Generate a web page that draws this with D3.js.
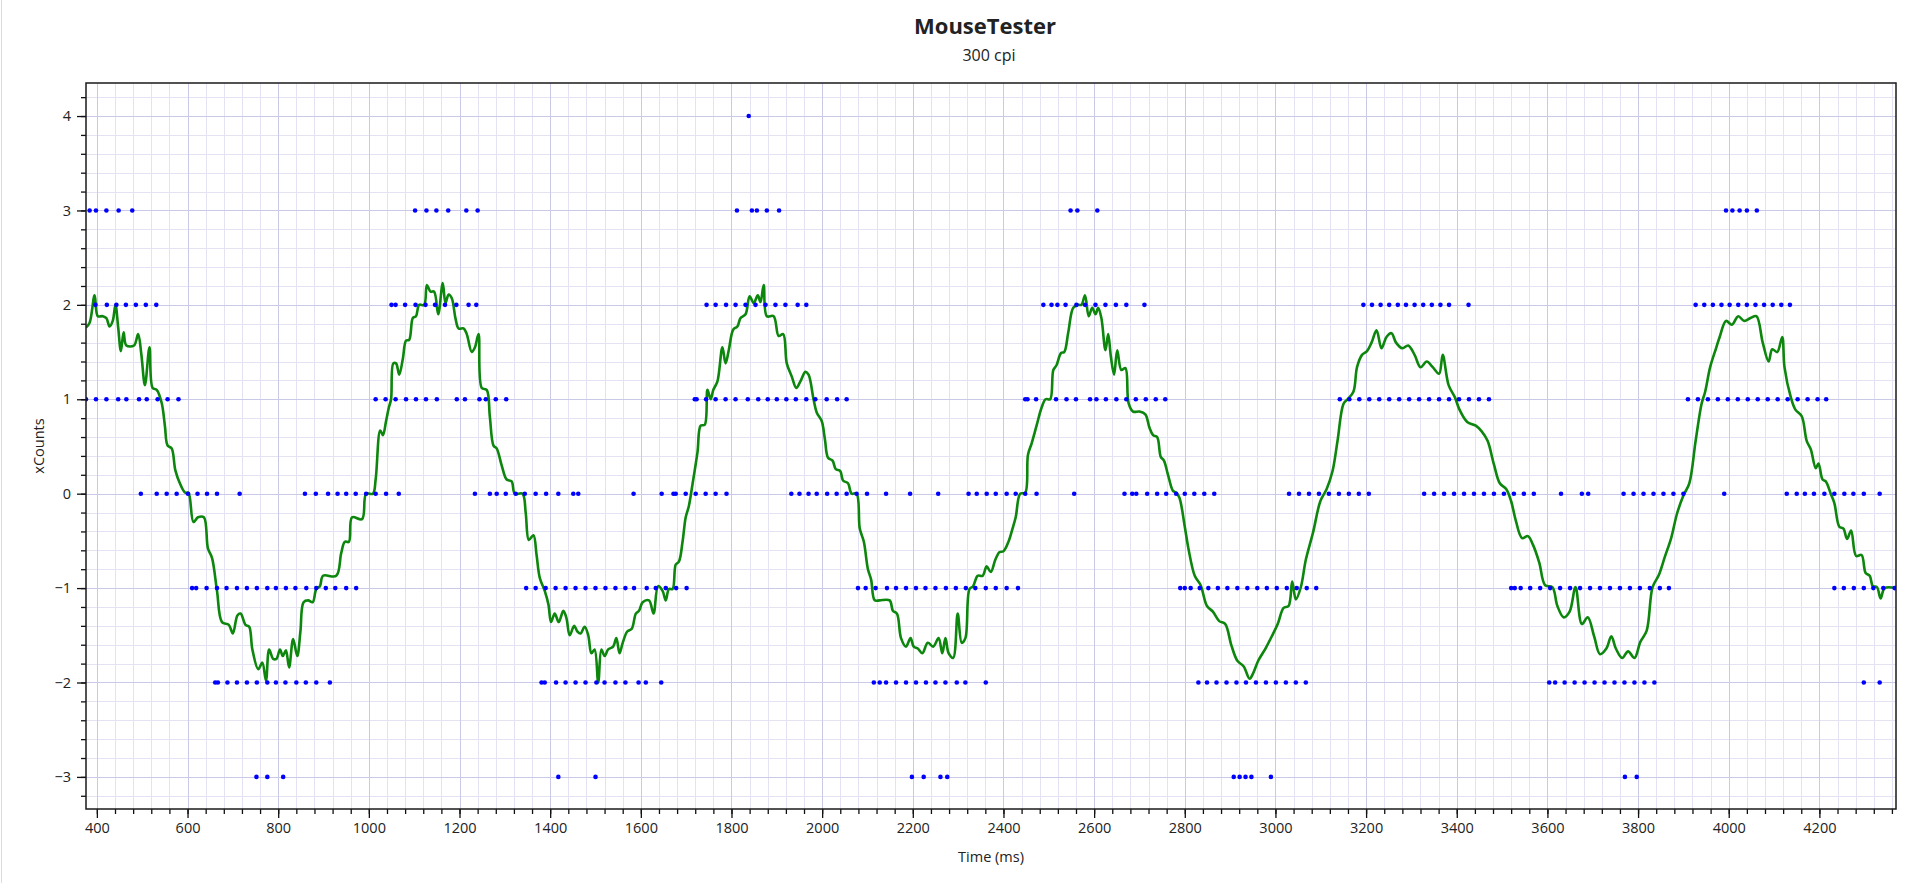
<!DOCTYPE html>
<html>
<head>
<meta charset="utf-8">
<title>MouseTester</title>
<script src="https://cdn.jsdelivr.net/npm/d3@7/dist/d3.min.js"></script>
<style>
  html, body { margin: 0; padding: 0; background: #fff; }
  body { width: 1919px; height: 883px; overflow: hidden; }
  svg text { font-family: "Segoe UI", "Open Sans", "Noto Sans", sans-serif; fill: #222; }
</style>
</head>
<body>
<div id="chart"></div>
<script>
/* MouseTester xCounts vs time — blue dots are raw counts, green line the smoothed trace */

// — Raw counts: sample times (ms) for each count value ——————————————
const ROW_P4 = [1838];
const ROW_P3 = [384, 398, 421, 448, 478, 1102, 1127, 1149, 1175, 1215, 1240,
  1812, 1845, 1856, 1878, 1905, 2548, 2563, 2607, 3994, 4008, 4024, 4040, 4062];
const ROW_P2 = [397, 422, 443, 464, 486, 508, 531, 1050, 1059, 1080, 1103, 1125, 1146, 1168,
  1193, 1220, 1237, 1745, 1765, 1788, 1809, 1831, 1853, 1875, 1897, 1919, 1946, 1965,
  2488, 2506, 2519, 2537, 2561, 2580, 2603, 2625, 2648, 2671, 2711,
  3194, 3213, 3232, 3251, 3270, 3288, 3307, 3326, 3345, 3364, 3383, 3426,
  3927, 3946, 3965, 3984, 4002, 4021, 4040, 4059, 4078, 4097, 4116, 4135];
const ROW_P1 = [376, 398, 421, 447, 465, 493, 510, 534, 556, 580,
  1015, 1037, 1059, 1082, 1104, 1126, 1150, 1194, 1212, 1244, 1258, 1280, 1303,
  1719, 1723, 1744, 1765, 1787, 1809, 1836, 1859, 1880, 1900, 1921, 1942, 1965, 1985,
  2010, 2033, 2054, 2448, 2453, 2472, 2516, 2539, 2560, 2591, 2605, 2626, 2649, 2671,
  2692, 2714, 2736, 2757, 3142, 3163, 3185, 3207, 3229, 3251, 3273, 3295, 3317, 3339,
  3361, 3383, 3405, 3427, 3449, 3471, 3910, 3932, 3954, 3976, 3998, 4020, 4042, 4064,
  4086, 4108, 4130, 4152, 4174, 4196, 4215];
const ROW_0 = [497, 532, 554, 576, 601, 622, 643, 665, 715, 859, 883, 910, 931, 950, 971,
  994, 1015, 1038, 1066, 1234, 1267, 1282, 1302, 1324, 1344, 1368, 1391, 1418, 1451, 1462,
  1584, 1646, 1672, 1677, 1699, 1721, 1743, 1765, 1789, 1932, 1950, 1970, 1988,
  2011, 2032, 2054, 2076, 2099, 2141, 2194, 2256, 2323, 2341, 2363, 2383, 2407, 2427,
  2448, 2473, 2556, 2667, 2684, 2693, 2717, 2739, 2759, 2781, 2800, 2821, 2843, 2865,
  3030, 3052, 3074, 3096, 3118, 3140, 3162, 3184, 3206, 3328, 3350, 3372, 3394, 3416,
  3438, 3460, 3482, 3504, 3526, 3548, 3570, 3630, 3676, 3690, 3768, 3790, 3812, 3834,
  3856, 3878, 3900, 3990, 4128, 4150, 4168, 4188, 4211, 4233, 4255, 4275, 4298, 4333];
const ROW_N1 = [610, 619, 642, 665, 686, 709, 731, 753, 776, 795, 817, 838, 862, 884, 905,
  926, 950, 972, 1347, 1368, 1390, 1412, 1434, 1456, 1478, 1500, 1522, 1544, 1566, 1585,
  1613, 1633, 1655, 1678, 1701, 2079, 2096, 2118, 2143, 2163, 2185, 2207, 2228, 2250,
  2273, 2295, 2317, 2338, 2361, 2383, 2407, 2432, 2790, 2800, 2813, 2833, 2852, 2873,
  2894, 2916, 2938, 2960, 2981, 3003, 3025, 3047, 3069, 3090, 3520, 3528, 3541, 3562,
  3584, 3606, 3628, 3650, 3672, 3694, 3716, 3738, 3760, 3782, 3804, 3826, 3848, 3868,
  4233, 4254, 4276, 4298, 4319, 4341, 4366];
const ROW_N2 = [661, 667, 688, 709, 731, 753, 776, 795, 816, 840, 861, 884, 914,
  1381, 1388, 1413, 1434, 1456, 1478, 1502, 1520, 1544, 1566, 1595, 1611, 1645,
  2114, 2127, 2141, 2163, 2185, 2207, 2229, 2250, 2272, 2297, 2316, 2361,
  2830, 2849, 2870, 2892, 2914, 2935, 2957, 2979, 3001, 3023, 3045, 3067,
  3604, 3617, 3638, 3660, 3682, 3704, 3726, 3748, 3770, 3792, 3814, 3836, 4298, 4333];
const ROW_N3 = [752, 776, 811, 1418, 1500, 2198, 2224, 2261, 2276,
  2908, 2921, 2934, 2947, 2990, 3771, 3797];

const ROWS = [[4, ROW_P4], [3, ROW_P3], [2, ROW_P2], [1, ROW_P1], [0, ROW_0],
  [-1, ROW_N1], [-2, ROW_N2], [-3, ROW_N3]];

// — Smoothed trace ——————————————————————————————————————————————
const LINE_T = [376, 384, 395, 402, 413, 421, 428, 435, 441, 447, 453, 459, 465, 482, 491,
  498, 506, 516, 523, 532, 543, 550, 556, 565, 573, 584, 595, 602, 613, 623, 636, 645,
  654, 665, 676, 691, 700, 710, 717, 728, 736, 743, 756, 765, 773, 780, 789, 796, 804,
  810, 817, 824, 833, 842, 849, 856, 866, 876, 884, 892, 899, 928, 939, 947, 956, 963,
  985, 994, 1009, 1015, 1025, 1031, 1038, 1044, 1049, 1054, 1060, 1067, 1075, 1082,
  1089, 1097, 1104, 1111, 1122, 1128, 1136, 1144, 1153, 1163, 1169, 1176, 1183, 1191,
  1198, 1209, 1216, 1227, 1234, 1242, 1249, 1260, 1267, 1275, 1282, 1293, 1304, 1315,
  1322, 1339, 1346, 1353, 1363, 1370, 1377, 1388, 1396, 1402, 1410, 1419, 1429, 1436,
  1443, 1453, 1460, 1467, 1476, 1484, 1491, 1498, 1506, 1513, 1520, 1528, 1539, 1546,
  1553, 1560, 1570, 1580, 1589, 1596, 1604, 1618, 1628, 1638, 1648, 1655, 1662, 1670,
  1677, 1684, 1692, 1699, 1706, 1714, 1725, 1732, 1741, 1747, 1754, 1760, 1769, 1780,
  1787, 1794, 1804, 1813, 1820, 1831, 1840, 1849, 1858, 1864, 1871, 1878, 1893, 1904,
  1914, 1922, 1933, 1943, 1952, 1963, 1970, 1981, 1988, 1999, 2006, 2013, 2023, 2030,
  2040, 2046, 2057, 2065, 2076, 2083, 2092, 2101, 2108, 2116, 2127, 2149, 2156, 2165,
  2174, 2185, 2195, 2202, 2211, 2221, 2233, 2245, 2257, 2265, 2272, 2279, 2289, 2299,
  2308, 2316, 2325, 2333, 2343, 2354, 2363, 2372, 2382, 2391, 2400, 2411, 2420, 2427,
  2437, 2448, 2454, 2462, 2473, 2484, 2493, 2503, 2510, 2517, 2527, 2534, 2543, 2554,
  2565, 2572, 2580, 2588, 2596, 2603, 2609, 2616, 2625, 2631, 2637, 2644, 2651, 2660,
  2669, 2676, 2686, 2700, 2713, 2722, 2730, 2739, 2747, 2754, 2763, 2774, 2781, 2788,
  2800, 2808, 2822, 2835, 2849, 2862, 2876, 2889, 2903, 2916, 2930, 2943, 2951, 2962,
  2978, 2992, 3005, 3018, 3029, 3037, 3045, 3056, 3067, 3083, 3099, 3113, 3126, 3137,
  3150, 3159, 3172, 3180, 3191, 3202, 3212, 3223, 3234, 3245, 3256, 3266, 3280, 3293,
  3307, 3320, 3334, 3347, 3361, 3369, 3382, 3396, 3406, 3423, 3442, 3455, 3468, 3482,
  3495, 3509, 3520, 3530, 3544, 3557, 3568, 3582, 3595, 3611, 3622, 3636, 3649, 3662,
  3676, 3689, 3703, 3716, 3730, 3741, 3751, 3765, 3778, 3792, 3805, 3819, 3832, 3846,
  3859, 3873, 3886, 3900, 3913, 3927, 3940, 3948, 3959, 3972, 3980, 3994, 4007, 4021,
  4034, 4048, 4061, 4075, 4088, 4096, 4107, 4118, 4123, 4137, 4147, 4161, 4172, 4181,
  4192, 4198, 4207, 4214, 4225, 4233, 4244, 4253, 4261, 4270, 4281, 4293, 4302, 4311,
  4318, 4327, 4335, 4344, 4369];
const LINE_V = [1.76, 1.81, 2.10, 1.88, 1.88, 1.86, 1.77, 1.83, 2.00, 1.76, 1.51, 1.71, 1.57,
  1.57, 1.69, 1.48, 1.15, 1.55, 1.12, 1.10, 0.96, 0.72, 0.51, 0.48, 0.25, 0.10, 0.01, 0.01,
  -0.30, -0.25, -0.25, -0.58, -0.68, -1.03, -1.36, -1.39, -1.48, -1.29, -1.27, -1.39, -1.41,
  -1.65, -1.86, -1.79, -1.98, -1.65, -1.75, -1.75, -1.65, -1.72, -1.66, -1.84, -1.54, -1.72,
  -1.46, -1.15, -1.13, -1.15, -1.01, -0.98, -0.87, -0.87, -0.63, -0.51, -0.51, -0.25, -0.27,
  0.00, 0.00, 0.15, 0.67, 0.62, 0.77, 0.91, 1.00, 1.38, 1.38, 1.26, 1.43, 1.62, 1.63, 1.86,
  1.88, 2.00, 2.00, 2.21, 2.14, 2.14, 1.90, 2.23, 2.02, 2.11, 2.07, 1.86, 1.75, 1.75, 1.69,
  1.50, 1.55, 1.69, 1.12, 1.10, 0.81, 0.51, 0.48, 0.30, 0.15, 0.13, 0.00, 0.00, -0.20, -0.49,
  -0.44, -0.65, -0.89, -1.03, -1.17, -1.36, -1.27, -1.36, -1.24, -1.32, -1.50, -1.40, -1.46,
  -1.48, -1.41, -1.50, -1.69, -1.65, -2.00, -1.65, -1.72, -1.65, -1.62, -1.53, -1.69, -1.58,
  -1.46, -1.43, -1.27, -1.24, -1.15, -1.13, -1.27, -0.98, -1.03, -1.13, -1.01, -1.01, -0.75,
  -0.72, -0.51, -0.25, -0.13, 0.10, 0.44, 0.72, 0.73, 1.10, 1.00, 1.10, 1.19, 1.55, 1.38,
  1.52, 1.74, 1.77, 1.86, 1.90, 2.09, 2.02, 2.10, 2.03, 2.21, 1.88, 1.88, 1.67, 1.69, 1.38,
  1.24, 1.12, 1.19, 1.29, 1.26, 1.00, 0.86, 0.77, 0.58, 0.38, 0.35, 0.26, 0.24, 0.14, 0.11,
  0.00, 0.00, -0.37, -0.51, -0.80, -0.91, -1.13, -1.13, -1.13, -1.24, -1.27, -1.53, -1.62,
  -1.53, -1.62, -1.64, -1.69, -1.58, -1.62, -1.53, -1.69, -1.53, -1.69, -1.74, -1.27, -1.58,
  -1.53, -1.01, -0.98, -0.87, -0.87, -0.77, -0.83, -0.70, -0.62, -0.61, -0.51, -0.37, -0.25,
  0.00, 0.01, 0.41, 0.53, 0.72, 0.91, 1.00, 1.00, 1.31, 1.36, 1.49, 1.50, 1.71, 1.97, 2.00,
  2.00, 2.10, 1.88, 1.97, 1.90, 1.97, 1.86, 1.52, 1.69, 1.45, 1.26, 1.52, 1.31, 1.33, 0.96,
  0.87, 0.87, 0.84, 0.70, 0.62, 0.60, 0.39, 0.35, 0.20, 0.03, 0.01, -0.04, -0.35, -0.58,
  -0.87, -0.97, -1.19, -1.25, -1.35, -1.38, -1.61, -1.77, -1.83, -1.96, -1.90, -1.77, -1.64,
  -1.51, -1.38, -1.21, -1.19, -0.93, -1.12, -0.99, -0.70, -0.41, -0.08, 0.05, 0.24, 0.56,
  0.95, 1.00, 1.08, 1.34, 1.47, 1.51, 1.60, 1.73, 1.54, 1.66, 1.70, 1.60, 1.54, 1.57, 1.47,
  1.34, 1.40, 1.34, 1.27, 1.47, 1.15, 1.02, 0.89, 0.76, 0.72, 0.66, 0.56, 0.31, 0.11, 0.05,
  -0.08, -0.28, -0.47, -0.45, -0.54, -0.73, -0.97, -0.99, -1.19, -1.31, -1.25, -0.99, -1.38,
  -1.31, -1.51, -1.70, -1.64, -1.51, -1.64, -1.74, -1.67, -1.74, -1.57, -1.45, -0.99, -0.86,
  -0.67, -0.47, -0.21, -0.02, 0.11, 0.56, 0.95, 1.08, 1.34, 1.54, 1.66, 1.83, 1.79, 1.88,
  1.83, 1.86, 1.88, 1.60, 1.40, 1.53, 1.50, 1.66, 1.34, 1.02, 0.89, 0.82, 0.56, 0.47, 0.27,
  0.32, 0.15, 0.13, 0.00, -0.10, -0.35, -0.37, -0.48, -0.39, -0.66, -0.65, -0.84, -0.87,
  -0.98, -0.99, -1.11, -1.00, -1.00];

// — Axis ticks ————————————————————————————————————————————————
const X_MAJOR = d3.range(400, 4369, 200);
const X_MINOR = d3.range(400, 4369, 40);
const Y_MAJOR = [-3, -2, -1, 0, 1, 2, 3, 4];
const Y_MINOR = d3.range(-3.2, 4.3, 0.2).map(v => Math.round(v * 10) / 10);

const TITLE = 'MouseTester';
const SUBTITLE = '300 cpi';
const X_LABEL = 'Time (ms)';
const Y_LABEL = 'xCounts';

// — Layout ————————————————————————————————————————————————————
const WIDTH = 1919;
const HEIGHT = 883;
const PLOT = { left: 86, right: 1896, top: 83, bottom: 809 };

const svg = d3.select('#chart').append('svg')
  .attr('width', WIDTH)
  .attr('height', HEIGHT)
  .style('display', 'block');

// window edge at far left
svg.append('line')
  .attr('x1', 1.5).attr('x2', 1.5).attr('y1', 0).attr('y2', HEIGHT)
  .attr('stroke', '#dcdcdc').attr('stroke-width', 1);

const x = d3.scaleLinear().domain([376, 4369]).range([PLOT.left, PLOT.right]);
const y = d3.scaleLinear().domain([-3.34, 4.35]).range([PLOT.bottom, PLOT.top]);

// — Grid ——————————————————————————————————————————————————————
const grid = svg.append('g');

grid.selectAll('.vminor').data(X_MINOR.filter(t => t % 200 !== 0)).join('line')
  .attr('x1', d => Math.round(x(d)) + 0.5).attr('x2', d => Math.round(x(d)) + 0.5)
  .attr('y1', PLOT.top).attr('y2', PLOT.bottom)
  .attr('stroke', '#e3e3f4');
grid.selectAll('.hminor').data(Y_MINOR.filter(v => !Number.isInteger(v))).join('line')
  .attr('x1', PLOT.left).attr('x2', PLOT.right)
  .attr('y1', d => Math.round(y(d)) + 0.5).attr('y2', d => Math.round(y(d)) + 0.5)
  .attr('stroke', '#e3e3f4');
grid.selectAll('.vmajor').data(X_MAJOR).join('line')
  .attr('x1', d => Math.round(x(d)) + 0.5).attr('x2', d => Math.round(x(d)) + 0.5)
  .attr('y1', PLOT.top).attr('y2', PLOT.bottom)
  .attr('stroke', '#cacae8');
grid.selectAll('.hmajor').data(Y_MAJOR).join('line')
  .attr('x1', PLOT.left).attr('x2', PLOT.right)
  .attr('y1', d => Math.round(y(d)) + 0.5).attr('y2', d => Math.round(y(d)) + 0.5)
  .attr('stroke', '#cacae8');

// — Marks —————————————————————————————————————————————————————
const marks = svg.append('g');
const clip = svg.append('clipPath').attr('id', 'plot-clip');
clip.append('rect')
  .attr('x', PLOT.left).attr('y', PLOT.top)
  .attr('width', PLOT.right - PLOT.left).attr('height', PLOT.bottom - PLOT.top);
marks.attr('clip-path', 'url(#plot-clip)');

const lineData = LINE_T.map((t, i) => [t, LINE_V[i]]);
marks.append('path')
  .datum(lineData)
  .attr('fill', 'none')
  .attr('stroke', '#0c860c')
  .attr('stroke-width', 2.6)
  .attr('stroke-linejoin', 'round')
  .attr('d', d3.line().x(d => x(d[0])).y(d => y(d[1])).curve(d3.curveCatmullRom.alpha(0.5)));

const dotData = ROWS.flatMap(([v, times]) => times.map(t => [t, v]));
marks.selectAll('circle').data(dotData).join('circle')
  .attr('cx', d => x(d[0]))
  .attr('cy', d => y(d[1]))
  .attr('r', 2.3)
  .attr('fill', '#0000ff');

// — Axes ——————————————————————————————————————————————————————
const xAxis = d3.axisBottom(x).tickValues(X_MAJOR).tickSize(9).tickPadding(5).tickFormat(d3.format('d'));
const xMinor = d3.axisBottom(x).tickValues(X_MINOR).tickSize(5).tickFormat('');
const yAxis = d3.axisLeft(y).tickValues(Y_MAJOR).tickSize(9).tickPadding(6).tickFormat(d3.format('d'));
const yMinor = d3.axisLeft(y).tickValues(Y_MINOR).tickSize(5).tickFormat('');

function styleAxis(g) {
  g.select('.domain').remove();
  g.selectAll('line').attr('stroke', '#111').attr('stroke-width', 1.3);
  g.selectAll('text')
    .style('font-family', '"Segoe UI", "Open Sans", "Noto Sans", sans-serif')
    .style('font-size', '14.5px')
    .attr('fill', '#222');
}

svg.append('g').attr('transform', `translate(0,${PLOT.bottom})`).call(xMinor).call(styleAxis);
svg.append('g').attr('transform', `translate(0,${PLOT.bottom})`).call(xAxis).call(styleAxis);
svg.append('g').attr('transform', `translate(${PLOT.left},0)`).call(yMinor).call(styleAxis);
svg.append('g').attr('transform', `translate(${PLOT.left},0)`).call(yAxis).call(styleAxis);

// plot frame
svg.append('rect')
  .attr('x', PLOT.left).attr('y', PLOT.top)
  .attr('width', PLOT.right - PLOT.left).attr('height', PLOT.bottom - PLOT.top)
  .attr('fill', 'none').attr('stroke', '#1a1a1a').attr('stroke-width', 1.5);

// — Titles ————————————————————————————————————————————————————
const cx = (PLOT.left + PLOT.right) / 2;
svg.append('text').attr('x', cx - 6).attr('y', 34)
  .attr('text-anchor', 'middle').style('font-size', '22px').style('font-weight', 'bold')
  .attr('fill', '#000').text(TITLE);
svg.append('text').attr('x', cx - 2).attr('y', 61)
  .attr('text-anchor', 'middle').style('font-size', '16px')
  .text(SUBTITLE);
svg.append('text').attr('x', cx).attr('y', 862)
  .attr('text-anchor', 'middle').style('font-size', '14.5px')
  .text(X_LABEL);
svg.append('text')
  .attr('transform', `translate(44,${(PLOT.top + PLOT.bottom) / 2}) rotate(-90)`)
  .attr('text-anchor', 'middle').style('font-size', '14.5px')
  .text(Y_LABEL);
</script>
</body>
</html>
